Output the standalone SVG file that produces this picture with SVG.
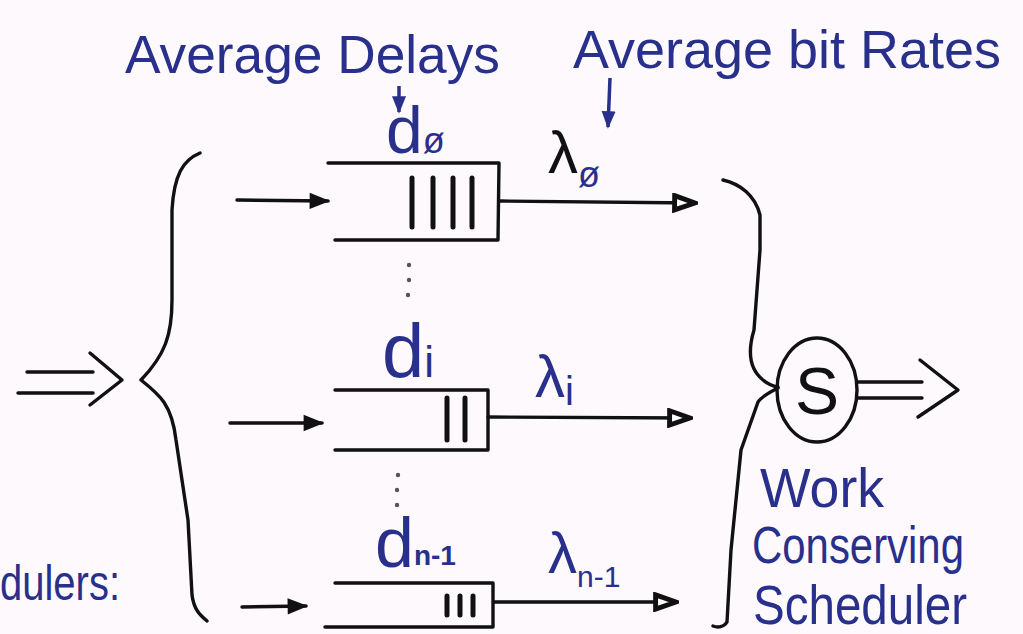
<svg xmlns="http://www.w3.org/2000/svg" width="1023" height="634" viewBox="0 0 1023 634">
<style>
.ln{stroke:#111;stroke-width:3.4;fill:none;stroke-linecap:round;stroke-linejoin:round}
.bar{stroke:#111;stroke-width:5;stroke-linecap:round}
.hw{font-family:"Liberation Sans","DejaVu Sans",sans-serif;fill:#28308c}
.blk{font-family:"Liberation Sans","DejaVu Sans",sans-serif;fill:#111}
.dot{fill:#555}
</style>
<defs>
<marker id="inArrow" viewBox="0 0 10 10" refX="9" refY="5" markerWidth="8" markerHeight="6" orient="auto" markerUnits="strokeWidth">
<path d="M0,1 L10,5 L0,9 z" fill="#111"/>
</marker>
<marker id="outArrow" viewBox="0 0 12 10" refX="11" refY="5" markerWidth="7.5" markerHeight="6" orient="auto" markerUnits="strokeWidth">
<path d="M1,1.5 L11,5 L1,8.5 z" fill="#fff" stroke="#111" stroke-width="2.4"/>
</marker>
<marker id="blueArrow" viewBox="0 0 10 10" refX="9" refY="5" markerWidth="5" markerHeight="5" orient="auto" markerUnits="strokeWidth">
<path d="M0,1 L10,5 L0,9 z" fill="#28308c"/>
</marker>
</defs>
<rect width="1023" height="634" fill="#fdf9fd"/>

<g id="titles">
<text class="hw" x="125" y="73" font-size="54" textLength="375" lengthAdjust="spacingAndGlyphs">Average Delays</text>
<text class="hw" x="573" y="68" font-size="54" textLength="428" lengthAdjust="spacingAndGlyphs">Average bit Rates</text>
<line x1="399" y1="86" x2="399" y2="112" stroke="#28308c" stroke-width="3.5" marker-end="url(#blueArrow)"/>
<line x1="610" y1="78" x2="608" y2="127" stroke="#28308c" stroke-width="3.5" marker-end="url(#blueArrow)"/>
</g>

<g id="input">
<line class="ln" x1="27" y1="372" x2="93" y2="372"/>
<line class="ln" x1="18" y1="393" x2="93" y2="393"/>
<polyline class="ln" points="90,353 122,380 90,405"/>
<path class="ln" d="M200,153 C183,160 174,175 172,210 L172,300 C172,335 165,355 141,380 C160,395 172,405 176,440 L188,520 L192,595 C194,610 200,615 207,621"/>
<text class="hw" x="0" y="600" font-size="50" textLength="120" lengthAdjust="spacingAndGlyphs">dulers:</text>
</g>

<g id="queue0">
<polyline class="ln" points="328,163 499,163 498,240 335,240"/>
<line class="bar" x1="412" y1="178" x2="412" y2="227"/>
<line class="bar" x1="433" y1="178" x2="433" y2="227"/>
<line class="bar" x1="453" y1="178" x2="453" y2="227"/>
<line class="bar" x1="472" y1="178" x2="472" y2="227"/>
<text class="hw" x="386" y="153" font-size="66">d<tspan font-size="36" dy="0">ø</tspan></text>
<text class="blk" x="548" y="173" font-size="60" fill="#1c1c3a">λ<tspan font-size="36" dy="14" fill="#28308c">ø</tspan></text>
</g>

<g id="queuei">
<polyline class="ln" points="335,390 488,390 488,450 335,450"/>
<line class="bar" x1="447" y1="398" x2="447" y2="440"/>
<line class="bar" x1="465" y1="398" x2="465" y2="440"/>
<text class="hw" x="382" y="377" font-size="76">d<tspan font-size="44" dy="0">i</tspan></text>
<text class="hw" x="535" y="397" font-size="60">λ<tspan font-size="40" dy="8">i</tspan></text>
</g>

<g id="queuen1">
<polyline class="ln" points="335,583 493,583 493,627 325,627"/>
<line class="bar" x1="447" y1="596" x2="447" y2="615"/>
<line class="bar" x1="460" y1="596" x2="460" y2="615"/>
<line class="bar" x1="473" y1="596" x2="473" y2="615"/>
<text class="hw" x="375" y="567" font-size="70">d<tspan font-size="28" font-weight="bold" dy="-2">n-1</tspan></text>
<text class="hw" x="548" y="573" font-size="58">λ<tspan font-size="30" dy="14">n-1</tspan></text>
</g>

<g id="dots">
<circle class="dot" cx="409" cy="265" r="2.2"/>
<circle class="dot" cx="409" cy="280" r="2.2"/>
<circle class="dot" cx="408" cy="295" r="2.2"/>
<circle class="dot" cx="398" cy="475" r="2.2"/>
<circle class="dot" cx="397" cy="490" r="2.2"/>
<circle class="dot" cx="397" cy="505" r="2.2"/>
</g>

<g id="scheduler">
<path class="ln" d="M723,180 C740,184 755,195 760,215 L760,250 L754,330 C748,350 748,368 763,380 C768,384 773,386 778,387"/>
<path class="ln" d="M778,388 C770,392 762,396 758,402 L741,450 L731,550 L727,622 C724,627 718,628 713,626"/>
<ellipse class="ln" cx="817" cy="390" rx="40" ry="52"/>
<text class="blk" x="817" y="414" font-size="66" text-anchor="middle">S</text>
<line class="ln" x1="858" y1="382" x2="922" y2="382"/>
<line class="ln" x1="858" y1="398" x2="922" y2="398"/>
<polyline class="ln" points="920,360 958,390 918,417"/>
<text class="hw" x="760" y="507" font-size="56" textLength="124" lengthAdjust="spacingAndGlyphs">Work</text>
<text class="hw" x="752" y="563" font-size="52" textLength="212" lengthAdjust="spacingAndGlyphs">Conserving</text>
<text class="hw" x="753" y="624" font-size="56" textLength="214" lengthAdjust="spacingAndGlyphs">Scheduler</text>
</g>

<g id="connectors">
<line class="ln" x1="237" y1="200" x2="328" y2="201" marker-end="url(#inArrow)"/>
<line class="ln" x1="500" y1="201" x2="695" y2="203" marker-end="url(#outArrow)"/>
<line class="ln" x1="230" y1="423" x2="322" y2="423" marker-end="url(#inArrow)"/>
<line class="ln" x1="488" y1="417" x2="690" y2="418" marker-end="url(#outArrow)"/>
<line class="ln" x1="242" y1="607" x2="306" y2="606" marker-end="url(#inArrow)"/>
<line class="ln" x1="494" y1="602" x2="676" y2="602" marker-end="url(#outArrow)"/>
</g>
</svg>
